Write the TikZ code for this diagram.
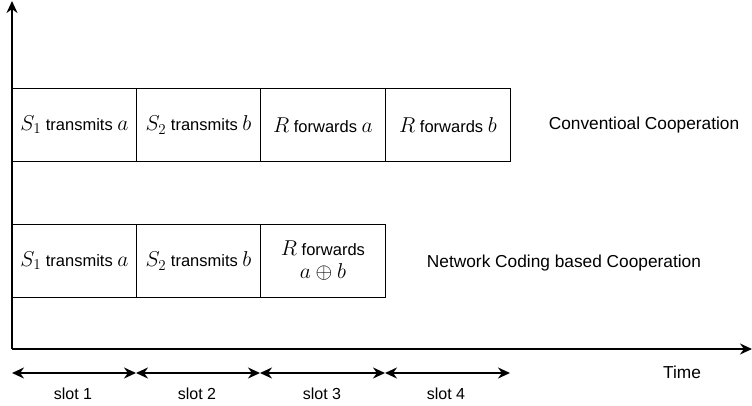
\documentclass[tikz,border=0pt]{standalone}
\usepackage{fix-cm}
\usepackage{fontspec}
\setmainfont{Liberation Sans}
\usetikzlibrary{arrows.meta}
\newcommand\mth[1]{{\fontsize{21.5}{24}\selectfont$#1$}}
\begin{document}
\begin{tikzpicture}[x=1pt,y=-1pt,
  cell/.style={draw, line width=0.9pt, minimum width=124pt, minimum height=73pt, anchor=north west, inner sep=0pt, font=\fontsize{16.5}{22}\selectfont, align=center},
  axis/.style={line width=1.8pt, -{Stealth[length=12pt,width=11pt]}},
  slotarrow/.style={line width=1.8pt, {Stealth[length=12pt,width=11pt]}-{Stealth[length=12pt,width=11pt]}},
  lbl/.style={font=\fontsize{17.3}{20}\selectfont},
  slotlbl/.style={font=\fontsize{16}{19}\selectfont}]
\useasboundingbox (0,0) rectangle (752,406);
% axes
\coordinate (o) at (12,349);
\coordinate (ytip) at (12,1);
\coordinate (xtip) at (752,349);
\draw[axis] (o) -- (ytip);
\draw[axis] (o) -- (xtip);
% row 1
\node[cell] (a1) at (12,88) {\mth{S_1} transmits \mth{a}};
\node[cell] (a2) at (136,88) {\mth{S_2} transmits \mth{b}};
\node[cell, minimum width=125pt] (a3) at (260,88) {\mth{R} forwards \mth{a}};
\node[cell, minimum width=125pt] (a4) at (385,88) {\mth{R} forwards \mth{b}};
\node[lbl, anchor=center] (l1) at (644,125) {Conventioal Cooperation};
% row 2
\node[cell] (b1) at (12,224) {\mth{S_1} transmits \mth{a}};
\node[cell] (b2) at (136,224) {\mth{S_2} transmits \mth{b}};
\node[cell, minimum width=125pt] (b3) at (260,224) {\mth{R} forwards\\[1pt]\mth{a\oplus b}};
\node[lbl, anchor=center] (l2) at (564,263) {Network Coding based Cooperation};
% slots
\coordinate (s0) at (12,373);
\coordinate (s1) at (136,373);
\coordinate (s2) at (260,373);
\coordinate (s3) at (385,373);
\coordinate (s4) at (510,373);
\draw[slotarrow] (s0) -- (s1);
\draw[slotarrow] (s1) -- (s2);
\draw[slotarrow] (s2) -- (s3);
\draw[slotarrow] (s3) -- (s4);
\node[slotlbl] (t1) at (73,394) {slot 1};
\node[slotlbl] (t2) at (197,394) {slot 2};
\node[slotlbl] (t3) at (322,394) {slot 3};
\node[slotlbl] (t4) at (446,394) {slot 4};
\node[lbl] (time) at (682,372) {Time};
\end{tikzpicture}
\end{document}
